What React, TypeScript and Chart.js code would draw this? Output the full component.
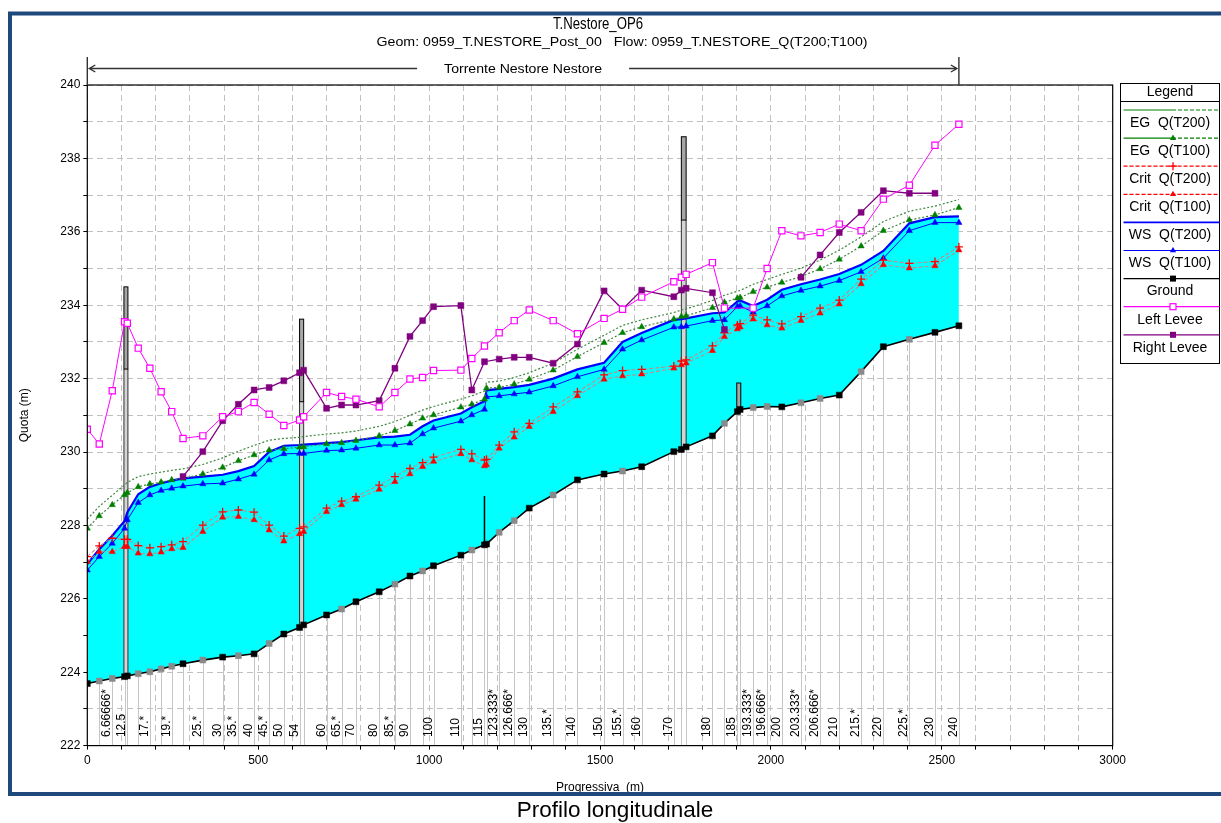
import React, { useEffect, useRef } from 'react';
import { Chart, registerables } from 'chart.js';

Chart.register(...registerables);

const FONT = '"Liberation Sans", Arial, Helvetica, sans-serif';

// ---------------- DATA ----------------
const chartTitle = 'T.Nestore_OP6';
const chartSubtitle = 'Geom: 0959_T.NESTORE_Post_00   Flow: 0959_T.NESTORE_Q(T200;T100)';
const reachName = 'Torrente Nestore Nestore';
const xTitle = 'Progressiva  (m)';
const yTitle = 'Quota (m)';
const caption = 'Profilo longitudinale';
const legendTitle = 'Legend';

// progressive distance of each cross section (m)
const stations = [
  0, 35, 73, 109, 117, 149, 183, 216, 247, 280,
  338, 396, 442, 488, 532, 575, 621, 633, 700, 744,
  786, 854, 900, 944, 981, 1013, 1093, 1125, 1162, 1168,
  1205, 1249, 1293, 1363, 1434, 1512, 1566, 1622, 1716, 1738,
  1752, 1829, 1864, 1902, 1910, 1948, 1989, 2032, 2088, 2144,
  2200, 2264, 2329, 2405, 2480, 2550,
];

// river station names shown under the profile ('' = label not drawn)
const stationLabels = [
  '', '', '6.66666*', '', '12.5', '', '17.*', '', '19.*', '',
  '25.*', '30', '35.*', '40', '45.*', '50', '54', '', '60', '65.*',
  '70', '80', '85.*', '90', '', '100', '110', '', '115', '',
  '123.333*', '126.666*', '130', '135.*', '140', '150', '155.*', '160', '170', '',
  '', '180', '', '185', '', '193.333*', '196.666*', '200', '203.333*', '206.666*',
  '210', '215.*', '220', '225.*', '230', '240',
];

// 1 = interpolated section (grey marker)
const interpolated = [
  0, 1, 1, 0, 0, 1, 1, 1, 1, 0,
  1, 0, 1, 0, 1, 0, 0, 0, 0, 1,
  0, 0, 1, 0, 1, 0, 0, 1, 0, 0,
  1, 1, 0, 1, 0, 0, 1, 0, 0, 0,
  0, 0, 1, 0, 0, 1, 1, 0, 1, 1,
  0, 1, 0, 1, 0, 0,
];

const ground = [
  223.69, 223.76, 223.83, 223.88, 223.90, 223.96, 224.01, 224.09, 224.16, 224.23,
  224.33, 224.41, 224.45, 224.50, 224.78, 225.04, 225.22, 225.29, 225.56, 225.72,
  225.92, 226.19, 226.40, 226.62, 226.76, 226.90, 227.19, 227.33, 227.47, 227.49,
  227.81, 228.13, 228.47, 228.83, 229.24, 229.40, 229.48, 229.60, 230.01, 230.07,
  230.14, 230.44, 230.78, 231.10, 231.16, 231.21, 231.24, 231.23, 231.34, 231.46,
  231.55, 232.19, 232.87, 233.07, 233.26, 233.44,
];

const wsT100 = [
  226.78, 227.15, 227.51, 227.92, 228.15, 228.62, 228.83, 228.95, 229.01, 229.07,
  229.13, 229.15, 229.26, 229.39, 229.78, 229.95, 229.96, 229.96, 230.04, 230.05,
  230.10, 230.19, 230.19, 230.24, 230.49, 230.65, 230.84, 231.01, 231.16, 231.50,
  231.53, 231.58, 231.63, 231.80, 232.05, 232.25, 232.80, 233.05, 233.40, 233.41,
  233.43, 233.58, 233.60, 233.96, 233.98, 233.81, 233.98, 234.25, 234.40, 234.52,
  234.67, 234.91, 235.28, 236.03, 236.25, 236.25,
];

const wsT200 = [
  226.95, 227.35, 227.72, 228.12, 228.35, 228.85, 229.05, 229.15, 229.22, 229.28,
  229.33, 229.38, 229.48, 229.62, 230.00, 230.17, 230.19, 230.20, 230.24, 230.27,
  230.32, 230.40, 230.42, 230.47, 230.70, 230.86, 231.05, 231.22, 231.38, 231.68,
  231.72, 231.77, 231.83, 232.00, 232.25, 232.43, 233.00, 233.24, 233.60, 233.62,
  233.64, 233.78, 233.80, 234.10, 234.13, 233.98, 234.15, 234.42, 234.57, 234.70,
  234.85, 235.10, 235.48, 236.23, 236.40, 236.42,
];

const egT100 = [
  227.92, 228.26, 228.56, 228.83, 228.89, 229.05, 229.13, 229.18, 229.24, 229.28,
  229.40, 229.58, 229.76, 229.92, 230.05, 230.09, 230.13, 230.14, 230.22, 230.25,
  230.31, 230.44, 230.58, 230.76, 230.92, 231.01, 231.22, 231.30, 231.44, 231.74,
  231.76, 231.85, 231.98, 232.23, 232.60, 232.98, 233.25, 233.41, 233.62, 233.69,
  233.71, 233.93, 234.08, 234.19, 234.21, 234.37, 234.49, 234.62, 234.78, 234.99,
  235.25, 235.61, 236.03, 236.32, 236.46, 236.66,
];

const egT200 = [
  228.17, 228.52, 228.82, 229.10, 229.17, 229.33, 229.40, 229.45, 229.50, 229.54,
  229.66, 229.84, 230.02, 230.18, 230.32, 230.37, 230.40, 230.42, 230.49, 230.52,
  230.57, 230.70, 230.83, 231.00, 231.14, 231.24, 231.44, 231.53, 231.66, 231.90,
  231.93, 232.03, 232.16, 232.42, 232.80, 233.18, 233.45, 233.60, 233.80, 233.87,
  233.90, 234.13, 234.27, 234.38, 234.40, 234.57, 234.70, 234.84, 235.01, 235.23,
  235.50, 235.86, 236.28, 236.56, 236.70, 236.88,
];

const critT100 = [
  227.01, 227.28, 227.28, 227.42, 227.42, 227.24, 227.22, 227.27, 227.36, 227.39,
  227.83, 228.22, 228.24, 228.15, 227.87, 227.57, 227.77, 227.83, 228.37, 228.56,
  228.71, 228.98, 229.19, 229.40, 229.60, 229.74, 229.95, 229.78, 229.62, 229.65,
  230.10, 230.40, 230.69, 231.10, 231.53, 231.98, 232.07, 232.12, 232.28, 232.37,
  232.42, 232.76, 233.14, 233.35, 233.40, 233.62, 233.46, 233.37, 233.58, 233.78,
  234.03, 234.58, 235.10, 235.01, 235.07, 235.50,
];

const critT200 = [
  227.15, 227.44, 227.65, 227.62, 227.62, 227.45, 227.39, 227.42, 227.47, 227.56,
  228.01, 228.37, 228.42, 228.36, 228.01, 227.71, 227.92, 227.96, 228.47, 228.66,
  228.78, 229.10, 229.33, 229.55, 229.71, 229.86, 230.07, 229.95, 229.78, 229.80,
  230.19, 230.55, 230.78, 231.23, 231.64, 232.10, 232.22, 232.25, 232.34, 232.48,
  232.51, 232.89, 233.25, 233.46, 233.50, 233.73, 233.60, 233.49, 233.69, 233.92,
  234.14, 234.71, 235.23, 235.14, 235.19, 235.59,
];

const leftLeveeX = [
  0, 35, 73, 109, 117, 149, 183, 216, 247, 280,
  338, 396, 442, 488, 532, 575, 621, 633, 700, 744,
  786, 854, 900, 944, 981, 1013, 1093, 1125, 1162, 1205,
  1249, 1293, 1363, 1434, 1512, 1566, 1622, 1716, 1738, 1752,
  1829, 1864, 1948, 1989, 2032, 2088, 2144, 2200, 2264, 2329,
  2405, 2480, 2550,
];
const leftLeveeY = [
  230.62, 230.22, 231.67, 233.55, 233.51, 232.83, 232.28, 231.64, 231.10, 230.37,
  230.44, 230.96, 231.10, 231.35, 231.03, 230.72, 230.87, 230.96, 231.62, 231.51,
  231.44, 231.23, 231.62, 231.99, 232.03, 232.22, 232.23, 232.55, 232.89, 233.25,
  233.58, 233.87, 233.58, 233.22, 233.64, 233.89, 234.22, 234.64, 234.76, 234.84,
  235.16, 233.92, 233.92, 235.00, 236.03, 235.89, 235.98, 236.21, 236.03, 236.89,
  237.27, 238.36, 238.93,
];

const rightLeveeX = [
  280, 338, 396, 442, 488, 532, 575, 621, 633, 700,
  744, 786, 854, 900, 944, 981, 1013, 1093, 1125, 1162,
  1205, 1249, 1293, 1363, 1434, 1512, 1566, 1622, 1716, 1738,
  1752, 1829, 1864, 1950, 2088, 2144, 2200, 2264, 2329, 2405,
  2480,
];
const rightLeveeY = [
  229.33, 230.01, 230.85, 231.30, 231.69, 231.76, 231.94, 232.16, 232.23, 231.19,
  231.28, 231.28, 231.40, 232.28, 233.15, 233.58, 233.96, 233.99, 231.69, 232.46,
  232.53, 232.58, 232.58, 232.42, 232.94, 234.39, 233.89, 234.41, 234.23, 234.41,
  234.46, 234.34, 233.34, null, 234.76, 235.37, 235.98, 236.53, 237.12, 237.05,
  237.05,
];

// bridges / inline structure: downstream & upstream distance, high chord, low chord
const structX1 = [109, 621, 1162, 1738, 1902];
const structX2 = [117, 633, 1162, 1752, 1910];
const structTop = [234.50, 233.62, 228.80, 238.59, 231.88];
const structLow = [232.26, 231.37, 228.80, 236.32, 231.10];

const xTicksMax = 3000;
const yMin = 222;
const yMax = 240;

// ---------------- SERIES STYLE ----------------
type Marker = 'none' | 'triangle' | 'cross' | 'rect' | 'openRect';
interface SeriesDef {
  label: string;
  xs: number[];
  ys: (number | null)[];
  color: string;
  width: number;
  dash: number[];
  marker: Marker;
  markerColor: string;
  legendLine: 'half' | 'dash' | 'solid';
  legendColor: string;
}

const series: SeriesDef[] = [
  { label: 'Left Levee', xs: leftLeveeX, ys: leftLeveeY, color: '#ff00ff', width: 1, dash: [], marker: 'openRect', markerColor: '#ff00ff', legendLine: 'solid', legendColor: '#ff00ff' },
  { label: 'Right Levee', xs: rightLeveeX, ys: rightLeveeY, color: '#800080', width: 1.3, dash: [], marker: 'rect', markerColor: '#800080', legendLine: 'solid', legendColor: '#800080' },
  { label: 'Crit  Q(T200)', xs: stations, ys: critT200, color: '#c48a8a', width: 1.1, dash: [4, 2], marker: 'cross', markerColor: '#ff0000', legendLine: 'dash', legendColor: '#ff0000' },
  { label: 'Crit  Q(T100)', xs: stations, ys: critT100, color: '#c48a8a', width: 1.1, dash: [4, 2], marker: 'triangle', markerColor: '#ff0000', legendLine: 'dash', legendColor: '#ff0000' },
  { label: 'EG  Q(T200)', xs: stations, ys: egT200, color: '#3f873f', width: 1.2, dash: [2, 2], marker: 'none', markerColor: '#008000', legendLine: 'half', legendColor: '#008000' },
  { label: 'EG  Q(T100)', xs: stations, ys: egT100, color: '#3f873f', width: 1.2, dash: [2, 2], marker: 'triangle', markerColor: '#008000', legendLine: 'half', legendColor: '#008000' },
  { label: 'WS  Q(T100)', xs: stations, ys: wsT100, color: '#0000ff', width: 1, dash: [], marker: 'triangle', markerColor: '#0000ff', legendLine: 'solid', legendColor: '#0000ff' },
  { label: 'WS  Q(T200)', xs: stations, ys: wsT200, color: '#0000ff', width: 2.2, dash: [], marker: 'none', markerColor: '#0000ff', legendLine: 'solid', legendColor: '#0000ff' },
  { label: 'Ground', xs: stations, ys: ground, color: '#000000', width: 1.6, dash: [], marker: 'rect', markerColor: '#000000', legendLine: 'solid', legendColor: '#000000' },
];

const legendOrder = [
  'EG  Q(T200)', 'EG  Q(T100)', 'Crit  Q(T200)', 'Crit  Q(T100)',
  'WS  Q(T200)', 'WS  Q(T100)', 'Ground', 'Left Levee', 'Right Levee',
];

function groundAt(x: number): number {
  for (let i = 0; i < stations.length - 1; i++) {
    if (x >= stations[i] && x <= stations[i + 1]) {
      const t = (x - stations[i]) / (stations[i + 1] - stations[i] || 1);
      return ground[i] + t * (ground[i + 1] - ground[i]);
    }
  }
  return ground[ground.length - 1];
}

function drawMarker(ctx: CanvasRenderingContext2D, m: Marker, x: number, y: number, color: string) {
  ctx.save();
  ctx.setLineDash([]);
  if (m === 'triangle') {
    const r = 3.6;
    ctx.beginPath();
    ctx.moveTo(x, y - r);
    ctx.lineTo(x + r * 0.866, y + r * 0.5);
    ctx.lineTo(x - r * 0.866, y + r * 0.5);
    ctx.closePath();
    ctx.fillStyle = color;
    ctx.fill();
  } else if (m === 'cross') {
    ctx.strokeStyle = color;
    ctx.lineWidth = 1.3;
    ctx.beginPath();
    ctx.moveTo(x - 4, y); ctx.lineTo(x + 4, y);
    ctx.moveTo(x, y - 4); ctx.lineTo(x, y + 4);
    ctx.stroke();
  } else if (m === 'rect') {
    ctx.fillStyle = color;
    ctx.fillRect(x - 3, y - 3, 6, 6);
  } else if (m === 'openRect') {
    ctx.fillStyle = '#fff';
    ctx.fillRect(x - 3, y - 3, 6, 6);
    ctx.strokeStyle = color;
    ctx.lineWidth = 1.2;
    ctx.strokeRect(x - 3, y - 3, 6, 6);
  }
  ctx.restore();
}

function fitText(ctx: CanvasRenderingContext2D, text: string, cx: number, cy: number, width: number) {
  const w = ctx.measureText(text).width;
  ctx.save();
  ctx.translate(cx, cy);
  ctx.scale(width / w, 1);
  ctx.fillText(text, 0, 0);
  ctx.restore();
}

const hecPlugin = {
  id: 'hecras',
  beforeDraw(chart: any) {
    const ctx = chart.ctx;
    ctx.save();
    ctx.fillStyle = '#ffffff';
    ctx.fillRect(0, 0, chart.width, chart.height);
    ctx.restore();
  },
  beforeDatasetsDraw(chart: any) {
    const { ctx, chartArea: ca, scales } = chart;
    const xs = scales.x;
    const ys = scales.y;
    ctx.save();
    ctx.beginPath();
    ctx.rect(ca.left, ca.top, ca.right - ca.left, ca.bottom - ca.top);
    ctx.clip();
    // station lines
    ctx.strokeStyle = '#c6c6c6';
    ctx.lineWidth = 1;
    stations.forEach((s, i) => {
      const px = Math.round(xs.getPixelForValue(s)) + 0.5;
      ctx.beginPath();
      ctx.moveTo(px, ys.getPixelForValue(ground[i]));
      ctx.lineTo(px, ca.bottom);
      ctx.stroke();
    });
    // station labels
    ctx.fillStyle = '#000';
    ctx.font = `12px ${FONT}`;
    ctx.textAlign = 'left';
    ctx.textBaseline = 'alphabetic';
    stations.forEach((s, i) => {
      const lab = stationLabels[i];
      if (!lab) return;
      const px = xs.getPixelForValue(s);
      ctx.save();
      ctx.translate(px - 2, ca.bottom - 8.5);
      ctx.rotate(-Math.PI / 2);
      ctx.fillText(lab, 0, 0);
      ctx.restore();
    });
    // structures
    structX1.forEach((x1, i) => {
      let p1 = xs.getPixelForValue(x1);
      let p2 = xs.getPixelForValue(structX2[i]);
      const yTop = ys.getPixelForValue(structTop[i]);
      const yLow = ys.getPixelForValue(structLow[i]);
      const yG = ys.getPixelForValue(groundAt(x1));
      if (p2 - p1 < 1) {
        ctx.strokeStyle = '#000';
        ctx.lineWidth = 1.5;
        ctx.beginPath();
        ctx.moveTo(p1, yTop);
        ctx.lineTo(p1, yG);
        ctx.stroke();
        return;
      }
      if (p2 - p1 < 4) { const c = (p1 + p2) / 2; p1 = c - 2; p2 = c + 2; }
      if (yG > yLow + 1) {
        ctx.fillStyle = '#d4d4d4';
        ctx.fillRect(p1, yLow, p2 - p1, yG - yLow);
        ctx.strokeStyle = '#303030';
        ctx.lineWidth = 1;
        ctx.beginPath();
        ctx.moveTo(p1, yLow); ctx.lineTo(p1, yG);
        ctx.moveTo(p2, yLow); ctx.lineTo(p2, yG);
        ctx.stroke();
      }
      ctx.fillStyle = '#a6a6a6';
      ctx.fillRect(p1, yTop, p2 - p1, yLow - yTop);
      ctx.strokeStyle = '#000';
      ctx.lineWidth = 1;
      ctx.strokeRect(p1, yTop, p2 - p1, yLow - yTop);
    });
    ctx.restore();
  },
  afterDraw(chart: any) {
    const { ctx, chartArea: ca, scales } = chart;
    const xs = scales.x;
    ctx.save();
    // plot frame
    ctx.strokeStyle = '#000';
    ctx.lineWidth = 1.2;
    ctx.setLineDash([]);
    ctx.strokeRect(ca.left, ca.top, ca.right - ca.left, ca.bottom - ca.top);

    // reach bracket
    const bx1 = xs.getPixelForValue(stations[0]);
    const bx2 = xs.getPixelForValue(stations[stations.length - 1]);
    const by = 68.5;
    ctx.strokeStyle = '#333';
    ctx.lineWidth = 1.4;
    ctx.beginPath();
    ctx.moveTo(bx1, 57); ctx.lineTo(bx1, ca.top);
    ctx.moveTo(bx2, 57); ctx.lineTo(bx2, ca.top);
    ctx.stroke();
    ctx.font = `13px ${FONT}`;
    const cx = (bx1 + bx2) / 2;
    const tw = 158;
    ctx.beginPath();
    ctx.moveTo(bx1 + 2, by); ctx.lineTo(cx - tw / 2 - 27, by);
    ctx.moveTo(cx + tw / 2 + 27, by); ctx.lineTo(bx2 - 2, by);
    ctx.moveTo(bx1 + 8, by - 3.5); ctx.lineTo(bx1 + 2, by); ctx.lineTo(bx1 + 8, by + 3.5);
    ctx.moveTo(bx2 - 8, by - 3.5); ctx.lineTo(bx2 - 2, by); ctx.lineTo(bx2 - 8, by + 3.5);
    ctx.stroke();
    ctx.fillStyle = '#000';
    ctx.textAlign = 'center';
    ctx.textBaseline = 'middle';
    fitText(ctx, reachName, cx, by + 1, tw);

    // titles
    ctx.font = `16.5px ${FONT}`;
    fitText(ctx, chartTitle, 598, 24, 90);
    ctx.font = `12px ${FONT}`;
    fitText(ctx, chartSubtitle, 622, 43, 491);

    // axis titles
    ctx.font = `12px ${FONT}`;
    ctx.save();
    ctx.translate(25, (ca.top + ca.bottom) / 2);
    ctx.rotate(-Math.PI / 2);
    ctx.fillText(yTitle, 0, 0);
    ctx.restore();
    ctx.fillText(xTitle, (ca.left + ca.right) / 2, 788);

    // legend
    const lx1 = 1120.5, lx2 = 1219.5, ly1 = 83.5, ly2 = 363.5;
    const lcx = (lx1 + lx2) / 2;
    ctx.fillStyle = '#fff';
    ctx.fillRect(lx1, ly1, lx2 - lx1, ly2 - ly1);
    ctx.strokeStyle = '#000';
    ctx.lineWidth = 1;
    ctx.strokeRect(lx1, ly1, lx2 - lx1, ly2 - ly1);
    ctx.beginPath();
    ctx.moveTo(lx1, 101.5); ctx.lineTo(lx2, 101.5);
    ctx.stroke();
    ctx.fillStyle = '#000';
    ctx.font = `14px ${FONT}`;
    ctx.fillText(legendTitle, lcx, 92);
    legendOrder.forEach((lab, i) => {
      const s = series.find((d) => d.label === lab)!;
      const ly = 110 + i * 28.1;
      ctx.strokeStyle = s.legendColor;
      ctx.lineWidth = s.width > 2 ? 1.6 : 1.2;
      if (s.legendLine === 'half') {
        ctx.setLineDash([]);
        ctx.beginPath(); ctx.moveTo(lx1 + 3, ly); ctx.lineTo(lcx + 2, ly); ctx.stroke();
        ctx.setLineDash([4, 2]);
        ctx.beginPath(); ctx.moveTo(lcx + 2, ly); ctx.lineTo(lx2, ly); ctx.stroke();
      } else if (s.legendLine === 'dash') {
        ctx.setLineDash([4, 2]);
        ctx.beginPath(); ctx.moveTo(lx1 + 3, ly); ctx.lineTo(lx2, ly); ctx.stroke();
      } else {
        ctx.setLineDash([]);
        ctx.beginPath(); ctx.moveTo(lx1 + 3, ly); ctx.lineTo(lx2, ly); ctx.stroke();
      }
      ctx.setLineDash([]);
      if (s.marker !== 'none') drawMarker(ctx, s.marker, lcx + 3, ly, s.markerColor);
      ctx.fillStyle = '#000';
      ctx.font = `14px ${FONT}`;
      ctx.fillText(lab, lcx, ly + 13);
    });

    // outer frame
    ctx.strokeStyle = '#1f497d';
    ctx.lineWidth = 4;
    ctx.strokeRect(10, 13.5, 1220, 780.5);

    // caption
    ctx.fillStyle = '#000';
    ctx.font = `22.5px ${FONT}`;
    ctx.fillText(caption, 615, 811);
    ctx.restore();
  },
};

export default function App() {
  const ref = useRef<HTMLCanvasElement>(null);
  useEffect(() => {
    const canvas = ref.current;
    if (!canvas) return;
    const groundIndex = series.findIndex((s) => s.label === 'Ground');
    const groundColors = interpolated.map((f) => (f ? '#8a8a8a' : '#000000'));
    const datasets: any[] = series.map((s) => {
      const ds: any = {
        label: s.label,
        data: s.xs.map((x, i) => ({ x, y: s.ys[i] })),
        borderColor: s.color,
        borderWidth: s.width,
        borderDash: s.dash,
        fill: false,
        spanGaps: false,
        tension: 0,
        pointRadius: 0,
        pointHoverRadius: 0,
      };
      if (s.marker === 'triangle') {
        Object.assign(ds, { pointStyle: 'triangle', pointRadius: 3.6, pointBackgroundColor: s.markerColor, pointBorderColor: s.markerColor, pointBorderWidth: 0.5 });
      } else if (s.marker === 'cross') {
        Object.assign(ds, { pointStyle: 'cross', pointRadius: 4, pointBorderColor: s.markerColor, pointBorderWidth: 1.3 });
      } else if (s.marker === 'rect') {
        Object.assign(ds, { pointStyle: 'rect', pointRadius: 4.2, pointBackgroundColor: s.markerColor, pointBorderColor: s.markerColor, pointBorderWidth: 0.5 });
      } else if (s.marker === 'openRect') {
        Object.assign(ds, { pointStyle: 'rect', pointRadius: 4.4, pointBackgroundColor: '#ffffff', pointBorderColor: s.markerColor, pointBorderWidth: 1.2 });
      }
      if (s.label === 'Ground') {
        ds.pointBackgroundColor = groundColors;
        ds.pointBorderColor = groundColors;
      }
      if (s.label === 'WS  Q(T200)') {
        ds.fill = { target: groundIndex, above: '#00ffff', below: '#00ffff' };
        ds.backgroundColor = '#00ffff';
      }
      return ds;
    });

    const chart = new Chart(canvas, {
      type: 'line',
      data: { datasets },
      options: {
        responsive: false,
        animation: false,
        events: [],
        layout: { padding: { left: 0, top: 85, right: 1221 - 1112.7, bottom: 0 } },
        plugins: {
          legend: { display: false },
          title: { display: false },
          tooltip: { enabled: false },
          filler: { drawTime: 'beforeDatasetsDraw', propagate: false },
        } as any,
        scales: {
          x: {
            type: 'linear',
            min: 0,
            max: xTicksMax,
            afterFit: (s: any) => { s.height = 823 - 745.6; },
            ticks: {
              stepSize: 100,
              autoSkip: false,
              maxRotation: 0,
              padding: 4,
              color: '#000',
              font: { family: FONT, size: 12 },
              callback: (v: any) => (Number(v) % 500 === 0 ? String(v) : ''),
            },
            grid: { color: '#c0c0c0', lineWidth: 1, tickLength: 4, tickColor: '#000', tickWidth: 1 },
            border: { display: false, dash: [6, 4] },
          },
          y: {
            type: 'linear',
            min: yMin,
            max: yMax,
            afterFit: (s: any) => { s.width = 87.3; },
            ticks: {
              stepSize: 1,
              autoSkip: false,
              padding: 3,
              color: '#000',
              font: { family: FONT, size: 12 },
              callback: (v: any) => (Number(v) % 2 === 0 ? String(v) : ''),
            },
            grid: { color: '#c0c0c0', lineWidth: 1, tickLength: 4, tickColor: '#000', tickWidth: 1 },
            border: { display: false, dash: [6, 4] },
          },
        } as any,
      },
      plugins: [hecPlugin],
    } as any);
    return () => chart.destroy();
  }, []);
  return (
    <canvas
      ref={ref}
      width={1221}
      height={823}
      style={{ position: 'fixed', left: 0, top: 0, width: 1221, height: 823 }}
    />
  );
}
